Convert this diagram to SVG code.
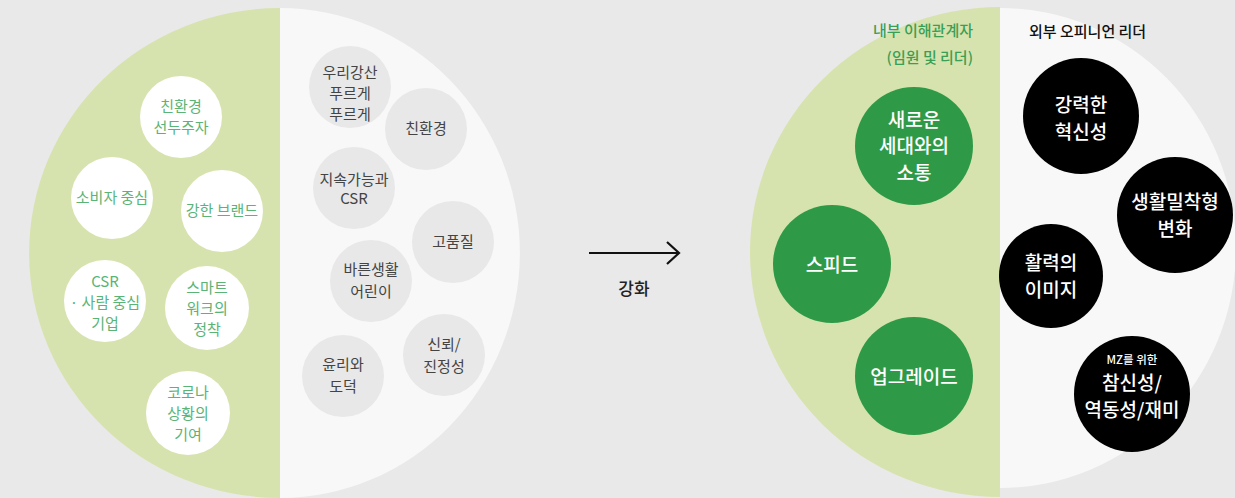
<svg xmlns="http://www.w3.org/2000/svg" width="1235" height="498" viewBox="0 0 1235 498">
<style>
text{font-family:"Noto Sans CJK KR","Noto Sans",sans-serif;text-anchor:middle}
.g{fill:#5ab475;font-size:15px}
.k{fill:#444;font-size:15px}
.w{fill:#fff;font-size:19px;font-weight:500}
.b{fill:#fff;font-size:19px;font-weight:500}
.wc{fill:#fff}
.gc{fill:#e8e8e8}
.dg{fill:#2e9a48}
.bk{fill:#000}
</style>
<rect width="1235" height="498" fill="#e9e9e9"/>
<g id="left-base">
<path d="M280,8 A251,245 0 0 0 280,498 Z" fill="#d7e3ae"/>
<path d="M280,8 A240,245 0 0 1 280,498 Z" fill="#f8f8f8"/>
</g>
<g id="right-base">
<path d="M1000,7 A250,245 0 0 0 1000,497 Z" fill="#d7e3ae"/>
<path d="M1000,8 A236,240 0 0 1 1000,488 Z" fill="#f8f8f8"/>
</g>
<g id="n-l1"><circle class="wc" cx="181" cy="117" r="41"/><text class="g" x="181" y="112">친환경</text><text class="g" x="181" y="133">선두주자</text></g>
<g id="n-l2"><circle class="wc" cx="112" cy="198" r="41"/><text class="g" x="112" y="203">소비자 중심</text></g>
<g id="n-l3"><circle class="wc" cx="222" cy="211" r="41"/><text class="g" x="222" y="216">강한 브랜드</text></g>
<g id="n-l4"><circle class="wc" cx="105" cy="301" r="41"/><text class="g" x="105" y="287">CSR</text><text class="g" x="105" y="308">· 사람 중심</text><text class="g" x="105" y="329">기업</text></g>
<g id="n-l5"><circle class="wc" cx="207" cy="308" r="42"/><text class="g" x="207" y="293">스마트</text><text class="g" x="207" y="314">워크의</text><text class="g" x="207" y="335">정착</text></g>
<g id="n-l6"><circle class="wc" cx="188" cy="413" r="42"/><text class="g" x="188" y="398">코로나</text><text class="g" x="188" y="419">상황의</text><text class="g" x="188" y="440">기여</text></g>
<g id="n-r1"><circle class="gc" cx="350" cy="87" r="41"/><text class="k" x="350" y="78">우리강산</text><text class="k" x="350" y="99">푸르게</text><text class="k" x="350" y="120">푸르게</text></g>
<g id="n-r2"><circle class="gc" cx="426" cy="129" r="41"/><text class="k" x="426" y="134">친환경</text></g>
<g id="n-r3"><circle class="gc" cx="354" cy="188" r="41"/><text class="k" x="354" y="185">지속가능과</text><text class="k" x="354" y="204">CSR</text></g>
<g id="n-r4"><circle class="gc" cx="453" cy="242" r="41"/><text class="k" x="453" y="247">고품질</text></g>
<g id="n-r5"><circle class="gc" cx="371" cy="281" r="41"/><text class="k" x="371" y="275">바른생활</text><text class="k" x="371" y="297">어린이</text></g>
<g id="n-r6"><circle class="gc" cx="444" cy="355" r="41"/><text class="k" x="444" y="350">신뢰/</text><text class="k" x="444" y="372">진정성</text></g>
<g id="n-r7"><circle class="gc" cx="343" cy="376" r="41"/><text class="k" x="343" y="370">윤리와</text><text class="k" x="343" y="392">도덕</text></g>
<g id="connectors">
<path d="M589,253 H679 M667,242 L679,253 L667,264" fill="none" stroke="#111" stroke-width="2.2"/>
</g>
<g id="label-arrow"><text x="634" y="295" style="font-size:17px;fill:#222;font-weight:500">강화</text></g>
<g id="label-inner"><text x="973" y="36" style="font-size:15px;fill:#3a9f55;font-weight:500;text-anchor:end">내부 이해관계자</text><text x="973" y="63" style="font-size:15px;fill:#3a9f55;font-weight:500;text-anchor:end">(임원 및 리더)</text></g>
<g id="label-outer"><text x="1029" y="37" style="font-size:15px;fill:#111;font-weight:500;text-anchor:start">외부 오피니언 리더</text></g>
<g id="n-g1"><circle class="dg" cx="914" cy="146" r="59"/><text class="w" x="914" y="127">새로운</text><text class="w" x="914" y="153">세대와의</text><text class="w" x="914" y="180">소통</text></g>
<g id="n-g2"><circle class="dg" cx="832" cy="264" r="59"/><text class="w" x="832" y="272">스피드</text></g>
<g id="n-g3"><circle class="dg" cx="914" cy="376" r="59"/><text class="w" x="914" y="384">업그레이드</text></g>
<g id="n-b1"><circle class="bk" cx="1081" cy="116" r="58"/><text class="b" x="1081" y="112">강력한</text><text class="b" x="1081" y="139">혁신성</text></g>
<g id="n-b2"><circle class="bk" cx="1175" cy="215" r="58"/><text class="b" x="1175" y="209">생활밀착형</text><text class="b" x="1175" y="236">변화</text></g>
<g id="n-b3"><circle class="bk" cx="1051" cy="276" r="52"/><text class="b" x="1051" y="270">활력의</text><text class="b" x="1051" y="297">이미지</text></g>
<g id="n-b4"><circle class="bk" cx="1132" cy="394" r="58"/><text x="1132" y="364" style="font-size:11.5px;fill:#fff;font-weight:500">MZ를 위한</text><text class="b" x="1132" y="390">참신성/</text><text class="b" x="1132" y="417">역동성/재미</text></g>
</svg>
